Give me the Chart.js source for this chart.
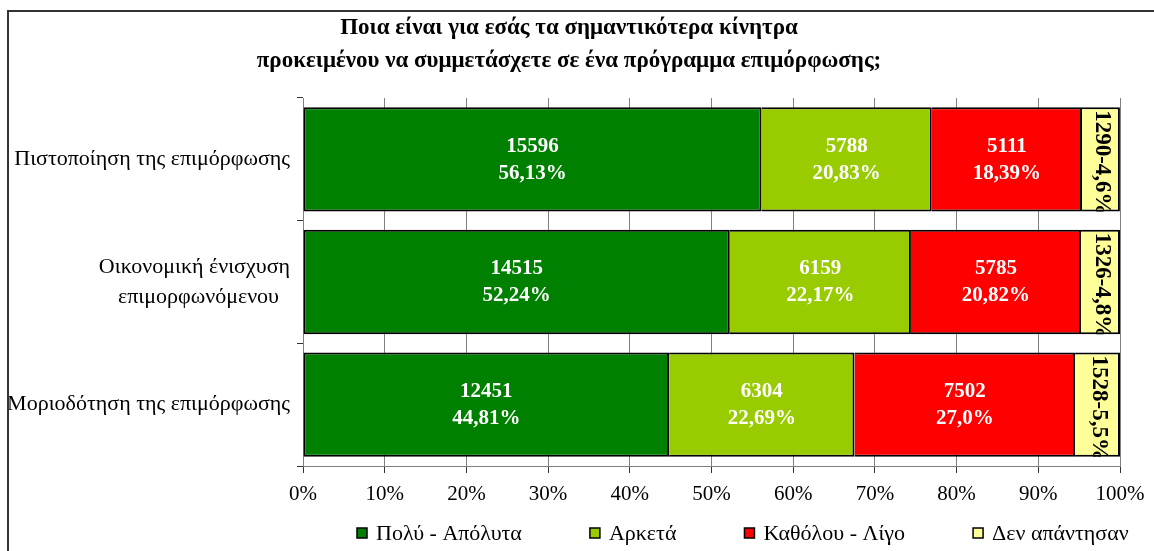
<!DOCTYPE html>
<html>
<head>
<meta charset="utf-8">
<script src="https://cdn.jsdelivr.net/npm/chart.js@4.4.1/dist/chart.umd.min.js"></script>
<style>
html,body{margin:0;padding:0;background:#fff;}
#c{display:block;}
</style>
</head>
<body>
<canvas id="c" width="1154" height="551"></canvas>
<script>
// ---- data ----
const titleLines = ["Ποια είναι για εσάς τα σημαντικότερα κίνητρα",
                    "προκειμένου να συμμετάσχετε σε ένα πρόγραμμα επιμόρφωσης;"];
const categories = [["Πιστοποίηση της επιμόρφωσης"],
                    ["Οικονομική ένισχυση", "επιμορφωνόμενου  "],
                    ["Μοριοδότηση της επιμόρφωσης"]];
const seriesNames = ["Πολύ - Απόλυτα", "Αρκετά", "Καθόλου - Λίγο", "Δεν απάντησαν"];
const seriesColors = ["#008000", "#99CC00", "#FF0000", "#FFFF99"];

const pctPoly     = [56.13, 52.24, 44.81];
const pctArketa   = [20.83, 22.17, 22.69];
const pctKatholou = [18.39, 20.82, 27.00];
const pctNone     = [4.64, 4.77, 5.50];

const countPoly     = [15596, 14515, 12451];
const countArketa   = [5788, 6159, 6304];
const countKatholou = [5111, 5785, 7502];
const countNone     = [1290, 1326, 1528];

const labelPoly     = ["56,13%", "52,24%", "44,81%"];
const labelArketa   = ["20,83%", "22,17%", "22,69%"];
const labelKatholou = ["18,39%", "20,82%", "27,0%"];
const labelNone     = ["4,6%", "4,8%", "5,5%"];

const xTicks = [0, 10, 20, 30, 40, 50, 60, 70, 80, 90, 100];

const SERIF = "'Liberation Serif', 'Times New Roman', serif";

const seriesValues = [pctPoly, pctArketa, pctKatholou, pctNone];
const seriesCounts = [countPoly, countArketa, countKatholou, countNone];
const seriesLabels = [labelPoly, labelArketa, labelKatholou, labelNone];

const datasets = seriesNames.map((name, i) => ({
  label: name,
  data: seriesValues[i],
  backgroundColor: seriesColors[i],
  borderColor: "#000",
  borderWidth: 2,
  borderSkipped: i === 0 ? false : "start",
  barPercentage: 0.85,
  categoryPercentage: 1.0
}));

const decor = {
  id: "decor",
  beforeDraw(chart) {
    const ctx = chart.ctx;
    ctx.save();
    ctx.fillStyle = "#fff";
    ctx.fillRect(0, 0, chart.width, chart.height);
    ctx.restore();
  },
  afterDraw(chart) {
    const ctx = chart.ctx;
    ctx.save();
    // outer border
    ctx.strokeStyle = "#333";
    ctx.lineWidth = 2;
    ctx.strokeRect(8, 11, 1300, 700);
    // title
    ctx.fillStyle = "#000";
    ctx.font = "bold 23px " + SERIF;
    ctx.textAlign = "center";
    ctx.textBaseline = "middle";
    ctx.fillText(titleLines[0], 569, 28);
    ctx.fillText(titleLines[1], 569, 61);
    // legend
    ctx.font = "22px " + SERIF;
    ctx.textAlign = "left";
    let x = 357;
    const y = 533;
    seriesNames.forEach((n, i) => {
      ctx.fillStyle = seriesColors[i];
      ctx.fillRect(x, y - 5, 10, 10);
      ctx.strokeStyle = "#000";
      ctx.lineWidth = 1.5;
      ctx.strokeRect(x, y - 5, 10, 10);
      ctx.fillStyle = "#000";
      ctx.fillText(n, x + 19, y + 1);
      x += 19 + ctx.measureText(n).width + 68;
    });
    ctx.restore();
  },
  afterDatasetsDraw(chart) {
    const ctx = chart.ctx;
    ctx.save();
    chart.data.datasets.forEach((ds, di) => {
      const meta = chart.getDatasetMeta(di);
      meta.data.forEach((el, j) => {
        const {x, y, base, height} = el.getProps(["x", "y", "base", "height"], true);
        const cx = (x + base) / 2;
        if (di < 3) {
          ctx.fillStyle = "#fff";
          ctx.font = "bold 21px " + SERIF;
          ctx.textAlign = "center";
          ctx.textBaseline = "middle";
          ctx.fillText(String(seriesCounts[di][j]), cx, y - 13);
          ctx.fillText(seriesLabels[di][j], cx, y + 14);
        } else {
          ctx.save();
          ctx.beginPath();
          ctx.rect(Math.min(x, base), y - height / 2, Math.abs(x - base), height);
          ctx.clip();
          ctx.translate(cx + 1, y - height / 2 + 3);
          ctx.rotate(Math.PI / 2);
          ctx.fillStyle = "#000";
          ctx.font = "bold 23px " + SERIF;
          ctx.textAlign = "left";
          ctx.textBaseline = "middle";
          ctx.fillText(seriesCounts[di][j] + "-" + seriesLabels[di][j], 0, 0);
          ctx.restore();
        }
      });
    });
    ctx.restore();
  }
};

new Chart(document.getElementById("c"), {
  type: "bar",
  data: { labels: categories, datasets },
  options: {
    indexAxis: "y",
    responsive: false,
    animation: false,
    devicePixelRatio: 1,
    layout: { padding: { left: 0, top: 98, right: 34, bottom: 45 } },
    plugins: { legend: { display: false }, title: { display: false }, tooltip: { enabled: false } },
    scales: {
      x: {
        stacked: true,
        min: 0, max: 100,
        afterBuildTicks(scale) { scale.ticks = xTicks.map(v => ({ value: v })); },
        afterFit(scale) { scale.height = 40; },
        border: { color: "#808080", width: 1 },
        grid: { color: "#808080", lineWidth: 1, drawOnChartArea: true, drawTicks: true, tickLength: 7, tickColor: "#333" },
        ticks: {
          color: "#000",
          font: { family: SERIF, size: 21 },
          padding: 9,
          maxRotation: 0,
          callback: v => v + "%"
        }
      },
      y: {
        stacked: true,
        afterFit(scale) { scale.width = 303; },
        border: { color: "#808080", width: 1 },
        grid: { drawOnChartArea: false, drawTicks: true, tickLength: 6, tickColor: "#333", offset: true },
        ticks: {
          color: "#000",
          font: { family: SERIF, size: 22, lineHeight: 1.36 },
          padding: 7
        }
      }
    }
  },
  plugins: [decor]
});
</script>
</body>
</html>
